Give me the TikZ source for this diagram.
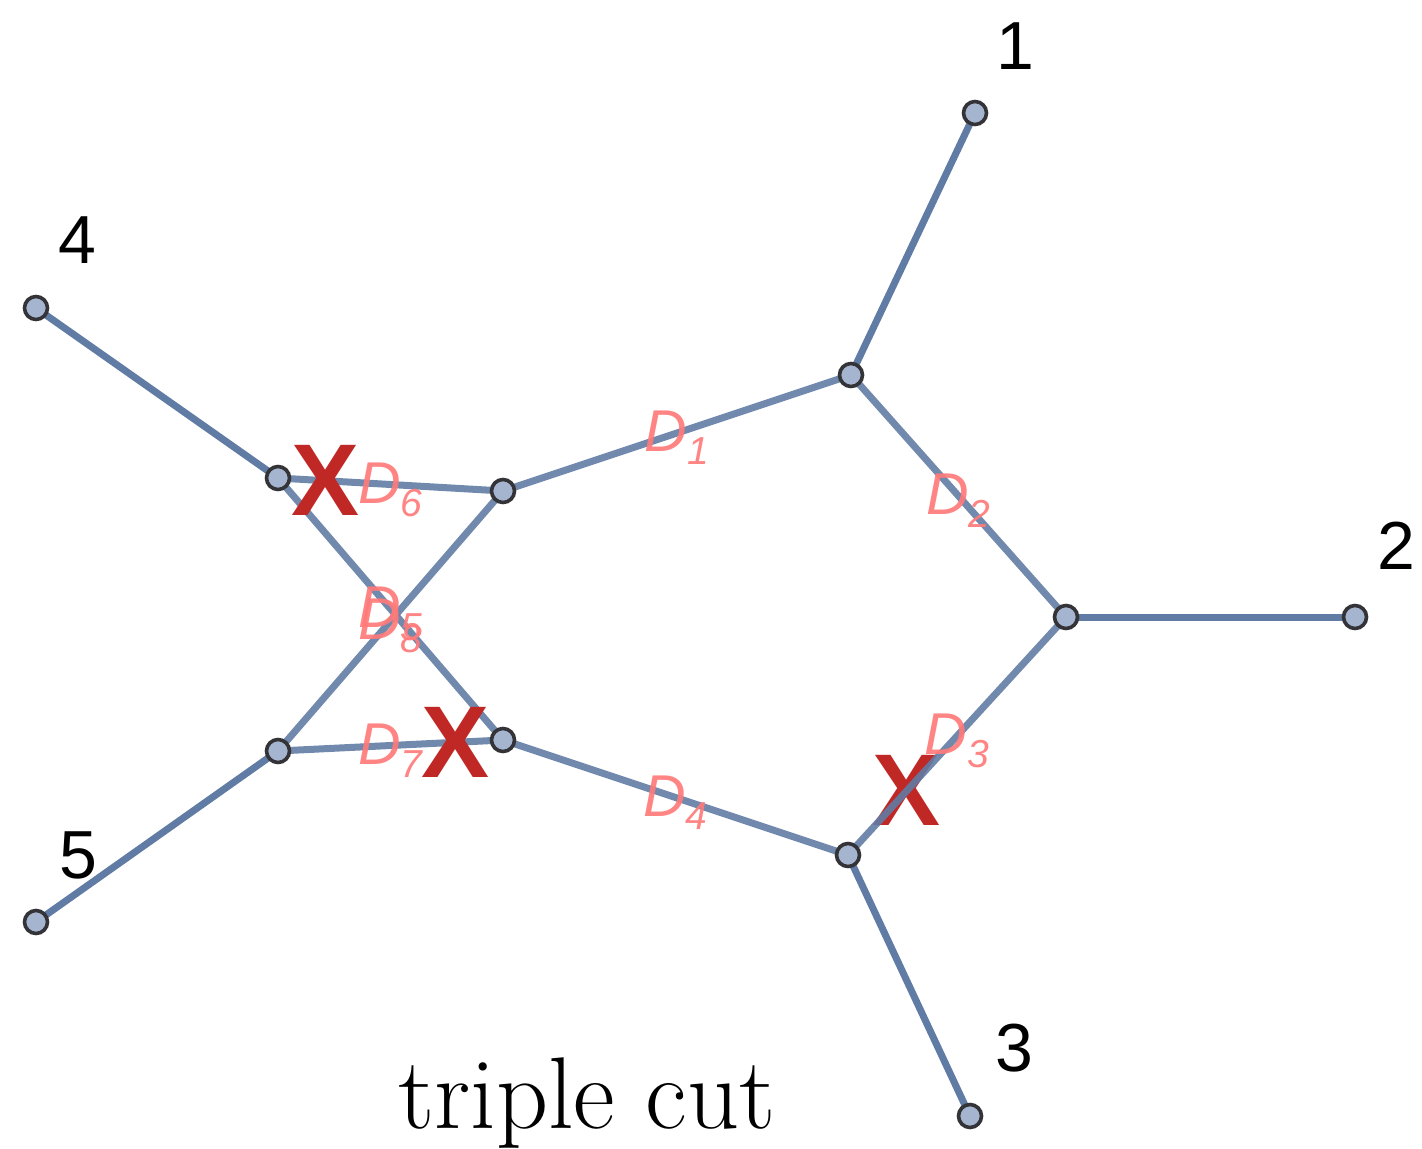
\documentclass[tikz,border=0pt]{standalone}
\usepackage{fontspec}
\newfontfamily\arialfont{Liberation Sans}
\definecolor{edgeblue}{RGB}{96,124,164}
\definecolor{vertfill}{RGB}{165,180,207}
\definecolor{vertdraw}{RGB}{52,52,56}
\definecolor{cutred}{RGB}{192,40,38}
\definecolor{labpink}{RGB}{255,122,122}
\newcommand{\dlab}[1]{D\raisebox{-6.5pt}{\fontsize{19.5}{20}\selectfont #1}}

\begin{document}
\begin{tikzpicture}[
    x=0.5pt, y=-0.5pt,
    vert/.style={circle, draw=vertdraw, fill=vertfill, line width=1.8pt,
      inner sep=0pt, minimum size=11.5pt},
    prop/.style={draw=edgeblue, line width=3.5pt},
    dlabel/.style={font=\arialfont\itshape\fontsize{29.5}{31}\selectfont,
      text=labpink, text opacity=0.92, inner sep=0pt, yshift=-2.5pt},
    num/.style={font=\arialfont\fontsize{34}{36}\selectfont, inner sep=0pt},
    cut/.style={font=\arialfont\bfseries\fontsize{51}{52}\selectfont,
      text=cutred, inner sep=0pt}]
  \useasboundingbox (0,0) rectangle (1422,1149);
  % vertices (drawn last, placed first)
  \coordinate (n1) at (975,113);
  \coordinate (n2) at (1355,617);
  \coordinate (n3) at (970,1116);
  \coordinate (n4) at (36,308);
  \coordinate (n5) at (36,922);
  \coordinate (a) at (851,375);
  \coordinate (b) at (1066,617);
  \coordinate (c) at (848,855);
  \coordinate (d) at (503,491);
  \coordinate (e) at (503,740);
  \coordinate (f) at (278,478);
  \coordinate (g) at (278,751);
  % the cut under the line
  \path (b) -- node[cut, pos=0.73] (x3) {X} (c);
  % external legs
  \draw[prop] (n1) -- (a);
  \draw[prop] (n2) -- (b);
  \draw[prop] (n3) -- (c);
  \draw[prop] (n4) -- (f);
  \draw[prop] (n5) -- (g);
  % propagators
  \draw[prop, draw opacity=0.9] (a) -- (d);
  \draw[prop, draw opacity=0.9] (a) -- (b);
  \draw[prop, draw opacity=0.9] (b) -- (c);
  \draw[prop, draw opacity=0.9] (c) -- (e);
  \draw[prop, draw opacity=0.9] (f) -- (e);
  \draw[prop, draw opacity=0.9] (f) -- (d);
  \draw[prop, draw opacity=0.9] (g) -- (e);
  \draw[prop, draw opacity=0.9] (g) -- (d);
  % cuts over the line
  \path (f) -- node[cut, pos=0.21] (x1) {X} (d);
  \path (g) -- node[cut, pos=0.79] (x2) {X} (e);
  % vertex dots
  \foreach \v in {n1,n2,n3,n4,n5,a,b,c,d,e,f,g}
    \node[vert] (dot-\v) at (\v) {};
  % propagator labels
  \path (a) -- node[dlabel] (l1) {\dlab{1}} (d);
  \path (a) -- node[dlabel] (l2) {\dlab{2}} (b);
  \path (b) -- node[dlabel] (l3) {\dlab{3}} (c);
  \path (c) -- node[dlabel] (l4) {\dlab{4}} (e);
  \path (f) -- node[dlabel] (l5) {\dlab{5}} (e);
  \path (f) -- node[dlabel] (l6) {\dlab{6}} (d);
  \path (g) -- node[dlabel] (l7) {\dlab{7}} (e);
  \path (g) -- node[dlabel] (l8) {\dlab{8}} (d);
  % leg numbers
  \node[num, shift={(40,-67)}] (k1) at (n1) {1};
  \node[num, shift={(41,-71)}] (k2) at (n2) {2};
  \node[num, shift={(44,-68)}] (k3) at (n3) {3};
  \node[num, shift={(41,-68)}] (k4) at (n4) {4};
  \node[num, shift={(42,-67)}] (k5) at (n5) {5};
  % caption
  \node[font=\fontsize{51}{53}\selectfont, anchor=base, inner sep=0pt]
    (title) at (587,1128) {triple cut};
\end{tikzpicture}
\end{document}
